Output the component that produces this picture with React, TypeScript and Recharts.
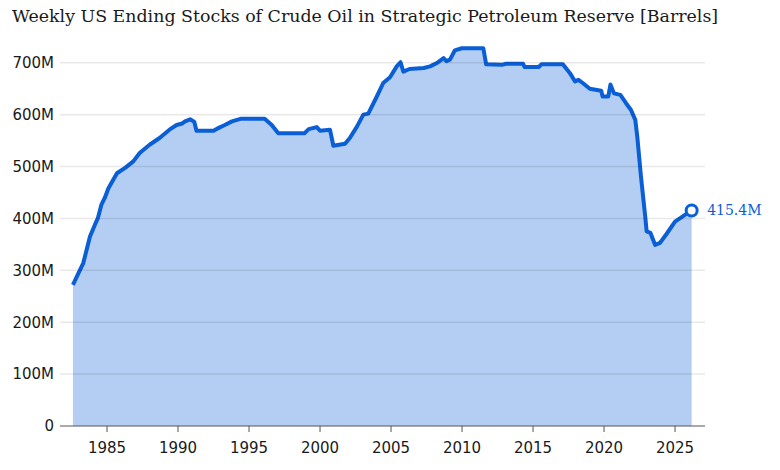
import React from 'react';
import {
  AreaChart,
  Area,
  XAxis,
  YAxis,
  ReferenceLine,
  ReferenceDot,
} from 'recharts';

// decimal years and stock level in millions of barrels
const years = [
  1982.6, 1983.0, 1983.33, 1983.8, 1984.15, 1984.35, 1984.6, 1984.85, 1985.1, 1985.35,
  1985.7, 1986.3, 1986.85, 1987.3, 1988.0, 1988.7, 1989.4, 1989.9, 1990.3, 1990.5,
  1990.85, 1991.15, 1991.3, 1992.5, 1992.9, 1993.3, 1993.8, 1994.4, 1996.1, 1996.6,
  1997.06, 1998.9, 1999.2, 1999.77, 2000.0, 2000.7, 2000.94, 2001.76, 2002.1, 2002.6,
  2003.05, 2003.4, 2004.0, 2004.45, 2004.93, 2005.4, 2005.67, 2005.87, 2006.3, 2007.3,
  2007.75, 2008.2, 2008.7, 2008.9, 2009.15, 2009.5, 2009.98, 2011.5, 2011.7, 2012.8,
  2013.1, 2014.3, 2014.4, 2015.4, 2015.6, 2017.1, 2017.6, 2017.96, 2018.2, 2018.5,
  2019.0, 2019.4, 2019.8, 2019.9, 2020.3, 2020.45, 2020.7, 2021.15, 2021.55, 2021.9,
  2022.2, 2022.34, 2022.6, 2022.9, 2023.0, 2023.27, 2023.6, 2023.94, 2024.4, 2025.0,
  2025.7, 2026.17,
];
const stocks = [
  272, 295, 314, 365, 388, 400, 426, 440, 458, 470,
  487, 498, 510, 526, 542, 555, 571, 580, 583, 587,
  591, 586, 569, 569, 575, 580, 587, 592, 592, 580,
  564, 564, 572, 576, 569, 571, 540, 544, 555, 577,
  600, 602, 635, 661, 672, 693, 701, 683, 688, 690,
  693, 699, 709, 703, 706, 724, 728, 728, 697, 696,
  698, 698, 692, 692, 697, 697, 680, 664, 667, 661,
  650, 648, 646, 635, 635, 658, 641, 638, 622, 609,
  590, 558, 481, 404, 375, 372, 349, 353, 370, 394,
  407, 415.4,
];
const xTicks = [1985, 1990, 1995, 2000, 2005, 2010, 2015, 2020, 2025];
const yTicks = [0, 100, 200, 300, 400, 500, 600, 700];

const data = years.map((t, i) => ({ t, v: stocks[i] }));
const last = data[data.length - 1];

const BLUE = '#0a5fd6';

export default function App() {
  return (
    <div style={{ position: 'absolute', left: 0, top: 0, width: 780, height: 470, background: '#fff' }}>
      <div
        style={{
          position: 'absolute',
          left: 12,
          top: 6,
          fontFamily: '"DejaVu Serif", serif',
          fontSize: 17.4,
          color: '#1a1a1a',
          whiteSpace: 'nowrap',
        }}
      >
        Weekly US Ending Stocks of Crude Oil in Strategic Petroleum Reserve [Barrels]
      </div>
      <AreaChart width={780} height={470} data={data} margin={{ top: 42, right: 75, left: 0, bottom: 0 }}>
        <XAxis
          dataKey="t"
          type="number"
          domain={[1981.69, 2027.11]}
          ticks={xTicks}
          allowDataOverflow
          height={44}
          tickSize={6}
          tickMargin={10}
          stroke="#555"
          tick={{ fontFamily: '"DejaVu Sans", sans-serif', fontSize: 15, fill: '#1a1a1a' }}
        />
        <YAxis
          type="number"
          domain={[0, 740]}
          ticks={yTicks}
          width={60}
          axisLine={false}
          tickLine={false}
          tickSize={0}
          tickMargin={6}
          tickFormatter={(v: number) => (v === 0 ? '0' : `${v}M`)}
          tick={{ fontFamily: '"DejaVu Sans", sans-serif', fontSize: 15, fill: '#1a1a1a' }}
        />
        <Area
          type="linear"
          dataKey="v"
          stroke={BLUE}
          strokeWidth={4}
          strokeLinejoin="round"
          fill="#b3cef2"
          fillOpacity={1}
          dot={false}
          activeDot={false}
          isAnimationActive={false}
        />
        {yTicks.slice(1).map((y) => (
          <ReferenceLine key={y} y={y} stroke="rgba(0,0,0,0.09)" strokeWidth={1.5} />
        ))}
        <ReferenceDot
          x={last.t}
          y={last.v}
          r={5.5}
          fill="#fff"
          stroke={BLUE}
          strokeWidth={3}
          label={{
            value: `${last.v}M`,
            position: 'right',
            offset: 10,
            fill: BLUE,
            fontSize: 14,
            fontFamily: '"DejaVu Serif", serif',
          }}
        />
      </AreaChart>
    </div>
  );
}
